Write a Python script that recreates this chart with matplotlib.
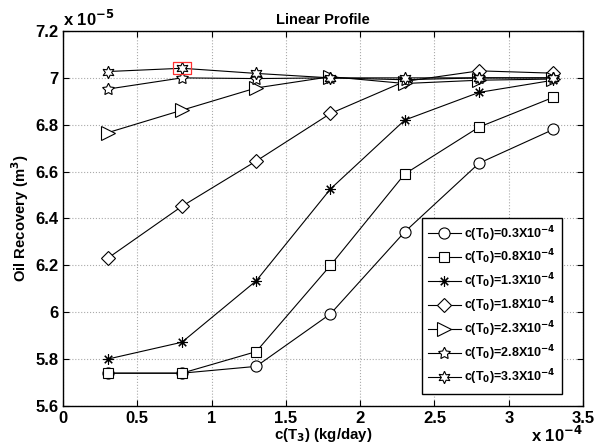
import numpy as np
import matplotlib.pyplot as plt
from matplotlib.path import Path

# x: c(T3) in units of 1e-4 kg/day, y: oil recovery in units of 1e-5 m^3
x_vals = [0.3, 0.8, 1.3, 1.8, 2.3, 2.8, 3.3]
rec_03 = [5.74, 5.74, 5.769, 5.993, 6.343, 6.636, 6.78]
rec_08 = [5.74, 5.74, 5.832, 6.20, 6.59, 6.79, 6.917]
rec_13 = [5.80, 5.872, 6.134, 6.526, 6.82, 6.938, 6.99]
rec_18 = [6.23, 6.452, 6.645, 6.848, 6.985, 7.03, 7.02]
rec_23 = [6.766, 6.862, 6.957, 7.005, 6.976, 6.99, 6.995]
rec_28 = [6.952, 7.0, 6.997, 7.0, 6.992, 7.0, 7.0]
rec_33 = [7.027, 7.041, 7.019, 7.0, 7.0, 7.0, 7.0]
labels = ["0.3", "0.8", "1.3", "1.8", "2.3", "2.8", "3.3"]
highlight_idx = 1  # highlighted point on the 3.3 curve

series = [rec_03, rec_08, rec_13, rec_18, rec_23, rec_28, rec_33]
markers = ['o', 's', (8, 2, 0), 'D', '>', (5, 1, 0), (6, 1, 0)]
msizes = [8, 7, 7.5, 7, 10, 9, 9]

plt.rcParams['font.family'] = ['Liberation Sans', 'DejaVu Sans']
plt.rcParams['font.weight'] = 'bold'
plt.rcParams['mathtext.default'] = 'bf'

fig = plt.figure(figsize=(5.98, 4.46), dpi=100)
ax = fig.add_axes([0.1054, 0.0897, 0.8696, 0.8408])

for vals, lab, mk, ms in zip(series, labels, markers, msizes):
    ax.plot(x_vals, vals, color='black', linewidth=0.8, marker=mk, markersize=ms,
            markerfacecolor='white', markeredgecolor='black', markeredgewidth=0.8,
            label=r"c(T$_0$)=" + lab + r"X10$^{-4}$")

# red box around one point
box = Path([(-1.5, -1), (1.5, -1), (1.5, 1), (-1.5, 1), (-1.5, -1)])
ax.plot([x_vals[highlight_idx]], [rec_33[highlight_idx]], linestyle='none',
        marker=box, markersize=13, markerfacecolor='none',
        markeredgecolor='#ff3030', markeredgewidth=0.9)

ax.set_xlim(0, 3.5)
ax.set_ylim(5.6, 7.2)
ax.set_xticks(np.arange(0, 3.51, 0.5))
ax.set_yticks(np.arange(5.6, 7.21, 0.2))
ax.set_xticklabels(['0', '0.5', '1', '1.5', '2', '2.5', '3', '3.5'])
ax.set_yticklabels(['5.6', '5.8', '6', '6.2', '6.4', '6.6', '6.8', '7', '7.2'])
ax.tick_params(direction='in', labelsize=12, top=True, right=True, length=4, width=0.8)
for t in ax.get_xticklabels() + ax.get_yticklabels():
    t.set_fontweight('bold')
ax.grid(True, linestyle=':', color='#aaaaaa', linewidth=0.8)
for s in ax.spines.values():
    s.set_linewidth(1.0)

ax.set_title("Linear Profile", fontsize=10.5, fontweight='bold', pad=5)
ax.set_xlabel(r"c(T$_3$) (kg/day)", fontsize=10.8, fontweight='bold', labelpad=0)
ax.set_ylabel(r"Oil Recovery (m$^3$)", fontsize=10.7, fontweight='bold', labelpad=3)

ax.text(0.0, 1.005, r"x 10$^{-5}$", transform=ax.transAxes, fontsize=12,
        fontweight='bold', ha='left', va='bottom')
ax.text(1.0, -0.103, r"x 10$^{-4}$", transform=ax.transAxes, fontsize=12,
        fontweight='bold', ha='right', va='bottom')

leg = ax.legend(loc='lower left', bbox_to_anchor=(0.69, 0.033), fontsize=9,
                fancybox=False, edgecolor='black', framealpha=1, handlelength=2.6,
                borderpad=0.5, labelspacing=0.35, handletextpad=0.3, borderaxespad=0)
leg.get_frame().set_linewidth(1.0)

fig.savefig("out.png", dpi=100)
